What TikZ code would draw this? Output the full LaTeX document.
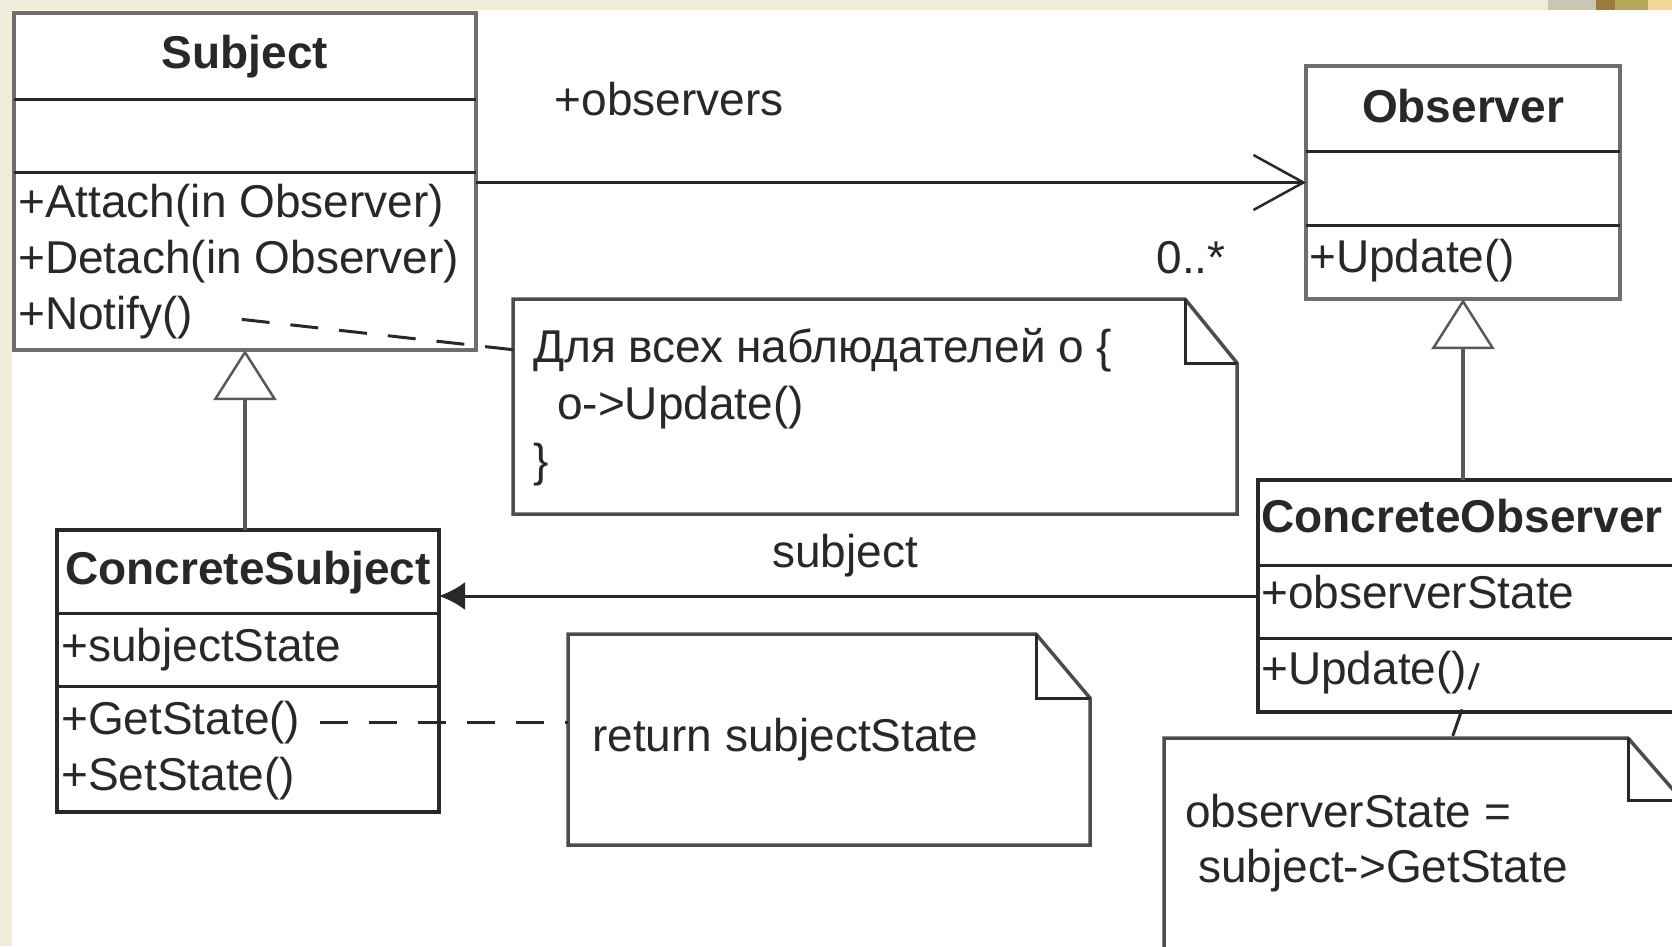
\documentclass[tikz,border=0pt]{standalone}
\usepackage{fontspec}
\setmainfont{Liberation Sans}
\usetikzlibrary{arrows.meta,positioning}
\definecolor{slidebeige}{RGB}{239,237,218}
\definecolor{slidegray}{RGB}{200,200,178}
\definecolor{slidebrown}{RGB}{156,124,60}
\definecolor{slideolive}{RGB}{180,168,90}
\definecolor{slidesand}{RGB}{242,216,150}
\definecolor{umlline}{RGB}{40,40,40}
\definecolor{umlgray}{RGB}{110,110,110}

% note outline with a folded corner: node, fold width, fold height
\newcommand{\drawnote}[3]{%
  \draw[noteline] (#1.north west) -- ([xshift=-#2]#1.north east) -- ([yshift=-#3]#1.north east)
    -- (#1.south east) -- (#1.south west) -- cycle;
  \draw[foldline] ([xshift=-#2]#1.north east) |- ([yshift=-#3]#1.north east);}

\begin{document}
\begin{tikzpicture}[
    x=1pt, y=-1pt,
    font=\fontsize{46}{56}\selectfont,
    classbox/.style={draw=umlline,line width=3.5pt,anchor=north west,inner sep=0pt,outer sep=0pt},
    abstractbox/.style={classbox,draw=umlgray,line width=4pt},
    divider/.style={umlline,line width=3pt},
    classname/.style={font=\fontsize{46}{56}\selectfont\bfseries,text=umlline,anchor=base,inner sep=0pt},
    member/.style={text=umlline,anchor=base west,inner sep=0pt},
    lbl/.style={text=umlline,anchor=base,inner sep=0pt},
    notebox/.style={anchor=north west,inner sep=0pt,outer sep=0pt},
    noteline/.style={draw=black!70,line width=3.5pt},
    foldline/.style={draw=umlline,line width=3pt},
    notelink/.style={draw=umlline,line width=3pt,dash pattern=on 28pt off 21pt},
    assoc/.style={draw=umlline,line width=3pt},
    inherit/.style={draw=black!65,line width=3.5pt,-{Triangle[open,length=50pt,width=63pt,line width=2.5pt]}}
  ]
  % slide background
  \useasboundingbox (0,0) rectangle (1672,946);
  \fill[white] (0,0) rectangle (1672,946);
  \fill[slidebeige] (0,0) rectangle (12,946);
  \fill[slidebeige] (0,0) rectangle (1548,10);
  \fill[slidegray] (1548,0) rectangle (1596,10);
  \fill[slidebrown] (1596,0) rectangle (1615,10);
  \fill[slideolive] (1615,0) rectangle (1648,10);
  \fill[slidesand] (1648,0) rectangle (1672,10);

  % Subject
  \node[abstractbox,minimum width=462pt,minimum height=337pt] (subject) at (14,13) {};
  \draw[divider] ([yshift=-86pt]subject.north west) -- ([yshift=-86pt]subject.north east);
  \draw[divider] ([yshift=-159pt]subject.north west) -- ([yshift=-159pt]subject.north east);
  \node[classname] (subjectname) at (245,68) {Subject};
  \node[member] (attach) at (18,217) {+Attach(in Observer)};
  \node[member] (detach) at (18,273) {+Detach(in Observer)};
  \node[member] (notify) at (18,329) {+Notify()};

  % Observer
  \node[abstractbox,minimum width=314pt,minimum height=233pt] (observer) at (1306,66) {};
  \draw[divider] ([yshift=-85pt]observer.north west) -- ([yshift=-85pt]observer.north east);
  \draw[divider] ([yshift=-159pt]observer.north west) -- ([yshift=-159pt]observer.north east);
  \node[classname] (observername) at (1463,122) {Observer};
  \node[member] (update) at (1309,272) {+Update()};

  % ConcreteSubject
  \node[classbox,minimum width=382pt,minimum height=282pt] (csubject) at (57,530) {};
  \draw[divider] ([yshift=-83pt]csubject.north west) -- ([yshift=-83pt]csubject.north east);
  \draw[divider] ([yshift=-156pt]csubject.north west) -- ([yshift=-156pt]csubject.north east);
  \node[classname] (csubjectname) at (248,584) {ConcreteSubject};
  \node[member] (subjectstate) at (61,661) {+subjectState};
  \node[member] (getstate) at (61,734) {+GetState()};
  \node[member] (setstate) at (61,790) {+SetState()};

  % ConcreteObserver
  \node[classbox,minimum width=418pt,minimum height=232pt] (cobserver) at (1258,480) {};
  \draw[divider] ([yshift=-85pt]cobserver.north west) -- ([yshift=-85pt]cobserver.north east);
  \draw[divider] ([yshift=-158pt]cobserver.north west) -- ([yshift=-158pt]cobserver.north east);
  \node[classname] (cobservername) at (1462,532) {ConcreteObserver};
  \node[member] (observerstate) at (1261,608) {+observerState};
  \node[member] (cupdate) at (1261,684) {+Update()};

  % notes
  \node[notebox,minimum width=724pt,minimum height=215pt] (note1) at (513,299) {};
  \drawnote{note1}{52pt}{64pt}
  \node[member] (note1a) at (533,362) {Для всех наблюдателей o \{};
  \node[member] (note1b) at (557,419) {o->Update()};
  \node[member] (note1c) at (533,476) {\}};

  \node[notebox,minimum width=522pt,minimum height=211pt] (note2) at (568,634) {};
  \drawnote{note2}{54pt}{64pt}
  \node[member] (note2a) at (592,751) {return subjectState};

  \node[notebox,minimum width=518pt,minimum height=260pt] (note3) at (1164,738) {};
  \drawnote{note3}{54pt}{62pt}
  \node[member] (note3a) at (1185,827) {observerState =};
  \node[member] (note3b) at (1198,882) {subject->GetState};

  % connectors
  \draw[assoc,-{Straight Barb[length=50pt,width=55pt,line width=2.5pt]}] (subject.east |- observer.west) -- (observer.west);
  \node[lbl] (observerslabel) at (669,115) {+observers};
  \node[lbl] (multiplicity) at (1191,273) {0..*};
  \draw[assoc,-{Latex[length=26pt,width=28pt]}] (cobserver.west) -- (cobserver.west -| csubject.east);
  \node[lbl] (subjectlabel) at (845,567) {subject};
  \draw[inherit] (subject.south |- csubject.north) -- (subject.south);
  \draw[inherit] (observer.south |- cobserver.north) -- (observer.south);
  \draw[notelink] (note1a.west -| note1.west) -- ([xshift=28pt]notify.east);
  \draw[notelink] ([xshift=20pt]getstate.east) -- (getstate.east -| note2.west);
  \draw[notelink] ([shift={(11pt,9pt)}]cupdate.east) -- ([xshift=288pt]note3.north west);
\end{tikzpicture}
\end{document}
